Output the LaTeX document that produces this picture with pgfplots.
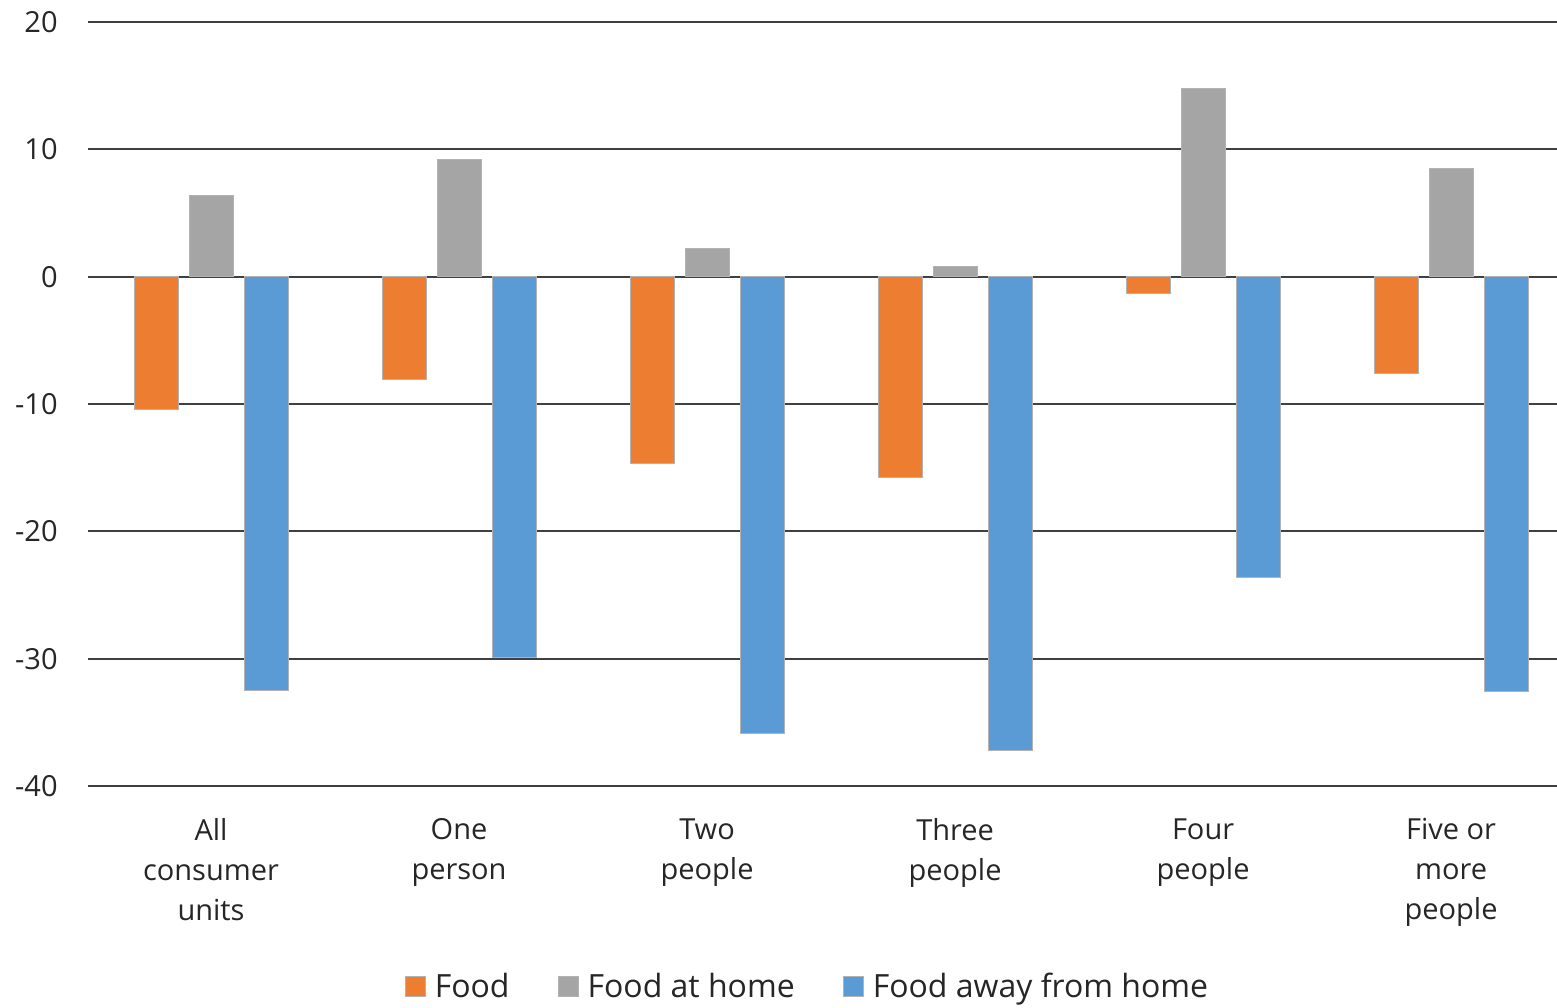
\documentclass[border=0pt]{standalone}
\usepackage{fontspec}
\setmainfont{Open Sans}
\usepackage{pgfplots}
\pgfplotsset{compat=1.18}
\definecolor{cOrange}{HTML}{ED7D31}
\definecolor{cGray}{HTML}{A5A5A5}
\definecolor{cBlue}{HTML}{5B9BD5}
\begin{document}
\begin{tikzpicture}
\path[use as bounding box] (-44pt,-110.5pt) rectangle (734.5pt,393pt);
\begin{axis}[
  scale only axis,
  width=734.5pt, height=382pt,
  ymin=-40, ymax=20,
  xmin=-0.496, xmax=5.427,
  ybar=5.5pt, bar width=22pt,
  axis line style={draw=none},
  major tick length=0pt,
  ymajorgrids,
  grid style={black!75, line width=1pt},
  ytick={-40,-30,-20,-10,0,10,20},
  yticklabels={-40,-30,-20,-10,0,10,20},
  yticklabel style={font=\fontsize{14.5}{17}\selectfont, color=black!85, inner sep=0pt, anchor=east, xshift=-15pt},
  xtick={0,1,2,3,4,5},
  xticklabels={All\\consumer\\units, One\\person, Two\\people, Three\\people, Four\\people, Five or\\more\\people},
  xticklabel style={font=\fontsize{14.5}{20}\selectfont, color=black!85, align=center, inner sep=0pt, anchor=north, yshift=-16pt},
  legend style={at={(0.5,-0.263)}, anchor=center, xshift=-7pt, draw=none, legend columns=-1,
    font=\fontsize{16}{18}\selectfont, text=black!85,
    /tikz/every even column/.append style={column sep=22pt}},
  legend image code/.code={\fill[#1] (0pt,-5pt) rectangle (10pt,5pt); \path (12.5pt,0pt);},
  every axis plot/.append style={draw=black!30, line width=0.5pt},
]
\addplot[fill=cOrange] coordinates {(0,-10.4) (1,-8.1) (2,-14.7) (3,-15.8) (4,-1.3) (5,-7.6)};
\addplot[fill=cGray] coordinates {(0,6.4) (1,9.2) (2,2.2) (3,0.8) (4,14.8) (5,8.5)};
\addplot[fill=cBlue] coordinates {(0,-32.5) (1,-29.9) (2,-35.9) (3,-37.2) (4,-23.6) (5,-32.6)};
\legend{Food, Food at home, Food away from home}
\end{axis}
\end{tikzpicture}
\end{document}
